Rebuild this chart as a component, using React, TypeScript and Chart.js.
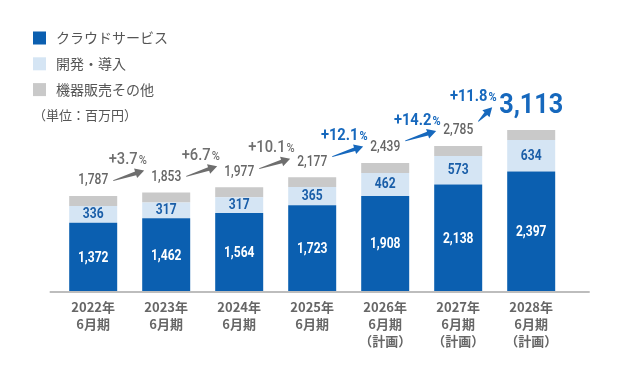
import React, { useEffect, useRef } from 'react';
import { Chart, registerables } from 'chart.js';

Chart.register(...registerables);

const categories: string[][] = [
  ['2022年', '6月期'],
  ['2023年', '6月期'],
  ['2024年', '6月期'],
  ['2025年', '6月期'],
  ['2026年', '6月期', '（計画）'],
  ['2027年', '6月期', '（計画）'],
  ['2028年', '6月期', '（計画）'],
];
const cloud = [1372, 1462, 1564, 1723, 1908, 2138, 2397];
const dev = [336, 317, 317, 365, 462, 573, 634];
// gray segment height as drawn in the picture (not labelled)
const otherDrawn = [200, 200, 200, 195, 200, 200, 200];
const totals = [1787, 1853, 1977, 2177, 2439, 2785, 3113];
const growth = ['+3.7', '+6.7', '+10.1', '+12.1', '+14.2', '+11.8'];
const growthHighlight = [false, false, false, true, true, true];
const legendLabels = ['クラウドサービス', '開発・導入', '機器販売その他'];
const unitLabel = '（単位：百万円）';

const C_CLOUD = '#0b5fb0';
const C_DEV = '#d5e5f4';
const C_OTHER = '#c9c9c9';
const C_TEXT_BLUE = '#1a5ea8';
const C_HL = '#1668bd';
const C_GRAY_TEXT = '#666666';

const NUM = "'Roboto', sans-serif";
const JP = "'Noto Sans CJK JP', 'Noto Sans', sans-serif";
const SQ = 0.86; // horizontal condensing for the DIN-like digits

const fmt = (v: number) => v.toLocaleString('en-US');

function condText(
  ctx: CanvasRenderingContext2D,
  text: string,
  x: number,
  y: number,
  align: 'left' | 'center',
  sx = SQ
): number {
  const w = ctx.measureText(text).width * sx;
  const left = align === 'center' ? x - w / 2 : x;
  ctx.save();
  ctx.translate(left, y);
  ctx.scale(sx, 1);
  ctx.textAlign = 'left';
  ctx.fillText(text, 0, 0);
  ctx.restore();
  return w;
}

function drawArrow(ctx: CanvasRenderingContext2D, sx: number, sy: number, ex: number, ey: number, color: string) {
  const dx = ex - sx, dy = ey - sy;
  const len = Math.hypot(dx, dy);
  const ux = dx / len, uy = dy / len;
  const px = -uy, py = ux;
  const hl = 9, hw = 5, bw = 1.9, tw = 0.4;
  const hx = ex - ux * hl, hy = ey - uy * hl;
  ctx.fillStyle = color;
  ctx.beginPath();
  ctx.moveTo(sx + px * tw, sy + py * tw);
  ctx.lineTo(hx + px * bw, hy + py * bw);
  ctx.lineTo(hx + px * hw, hy + py * hw);
  ctx.lineTo(ex, ey);
  ctx.lineTo(hx - px * hw, hy - py * hw);
  ctx.lineTo(hx - px * bw, hy - py * bw);
  ctx.lineTo(sx - px * tw, sy - py * tw);
  ctx.closePath();
  ctx.fill();
}

const overlayPlugin = {
  id: 'overlay',
  afterDatasetsDraw(chart: any) {
    const ctx: CanvasRenderingContext2D = chart.ctx;
    const area = chart.chartArea;
    const m0 = chart.getDatasetMeta(0);
    const m1 = chart.getDatasetMeta(1);
    const m2 = chart.getDatasetMeta(2);
    ctx.save();

    // baseline
    const base = m0.data[0].base;
    ctx.fillStyle = '#bdbdbd';
    ctx.fillRect(area.left - 7, base, area.right - area.left + 29, 2);

    // values inside bars
    ctx.textBaseline = 'middle';
    for (let i = 0; i < cloud.length; i++) {
      const b0 = m0.data[i];
      const b1 = m1.data[i];
      ctx.font = `bold 14px ${NUM}`;
      ctx.fillStyle = '#ffffff';
      condText(ctx, fmt(cloud[i]), b0.x, (b0.y + b0.base) / 2 + 1.5, 'center');
      ctx.fillStyle = C_TEXT_BLUE;
      condText(ctx, fmt(dev[i]), b1.x, (b1.y + b1.base) / 2 + 0.5, 'center');
    }

    // totals
    ctx.textBaseline = 'alphabetic';
    const info: { x: number; w: number; cy: number; bl: number }[] = [];
    for (let i = 0; i < totals.length; i++) {
      const e = m2.data[i];
      const last = i === totals.length - 1;
      ctx.font = last ? `bold 28px ${NUM}` : `500 14px ${NUM}`;
      ctx.fillStyle = last ? C_HL : C_GRAY_TEXT;
      const bl = last ? e.y - 16.7 : e.y - 11.6;
      const w = condText(ctx, fmt(totals[i]), e.x, bl, 'center', last ? 0.9 : SQ);
      info.push({ x: e.x, w, cy: last ? bl - 10 : bl - 5, bl });
    }

    // arrows and growth labels
    for (let i = 0; i < growth.length; i++) {
      const a = info[i], b = info[i + 1];
      const color = growthHighlight[i] ? C_HL : '#6e6e6e';
      const aRight = a.x + a.w / 2;
      const bLeft = b.x - b.w / 2;
      const mx = (aRight + bLeft) / 2 - 1;
      const my = (a.cy + b.cy) / 2 - 2;
      const half = (bLeft - aRight - 12) / 2;
      const rise = Math.max(10, 0.55 * (a.cy - b.cy));
      drawArrow(ctx, mx - half, my + rise / 2, mx + half, my - rise / 2, color);

      const weight = growthHighlight[i] ? 'bold ' : '500 ';
      const GS = 0.92;
      ctx.font = `${weight}16px ${NUM}`;
      const w1 = ctx.measureText(growth[i]).width * GS;
      ctx.font = `${weight}12px ${NUM}`;
      const w2 = ctx.measureText('%').width * GS;
      const tw = w1 + w2 + 1;
      let cx = mx - 1;
      if (cx + tw / 2 > bLeft - 2.5) cx = bLeft - 2.5 - tw / 2;
      const cyL = my - 17 - (rise - 10) * 0.5;
      const x0 = cx - tw / 2;
      ctx.fillStyle = color;
      ctx.font = `${weight}16px ${NUM}`;
      condText(ctx, growth[i], x0, cyL + 5.7, 'left', GS);
      ctx.font = `${weight}12px ${NUM}`;
      condText(ctx, '%', x0 + w1 + 1, cyL + 5.7, 'left', GS);
    }

    // category labels
    ctx.textAlign = 'center';
    ctx.textBaseline = 'middle';
    ctx.font = `bold 13px ${JP}`;
    ctx.fillStyle = C_GRAY_TEXT;
    for (let i = 0; i < categories.length; i++) {
      const x = m0.data[i].x;
      categories[i].forEach((line, k) => {
        ctx.fillText(line, x, base + 16 + 17 * k);
      });
    }

    // legend
    const colors = [C_CLOUD, C_DEV, C_OTHER];
    ctx.textAlign = 'left';
    ctx.font = `14px ${JP}`;
    for (let k = 0; k < legendLabels.length; k++) {
      const cy = 38 + 25.8 * k;
      ctx.fillStyle = colors[k];
      ctx.fillRect(33, cy - 6.5, 13, 13);
      ctx.fillStyle = '#555555';
      ctx.fillText(legendLabels[k], 56, cy);
    }
    ctx.font = `13px ${JP}`;
    ctx.fillStyle = '#555555';
    ctx.fillText(unitLabel, 33, 115);

    ctx.restore();
  },
};

export default function App() {
  const ref = useRef<HTMLCanvasElement | null>(null);
  useEffect(() => {
    if (!ref.current) return;
    const chart = new Chart(ref.current, {
      type: 'bar',
      data: {
        labels: categories.map((c) => c.join(' ')),
        datasets: [
          { label: legendLabels[0], data: cloud, backgroundColor: C_CLOUD },
          { label: legendLabels[1], data: dev, backgroundColor: C_DEV },
          { label: legendLabels[2], data: otherDrawn, backgroundColor: C_OTHER },
        ],
      },
      options: {
        animation: false,
        responsive: false,
        maintainAspectRatio: false,
        layout: { padding: { left: 56.7, right: 72.3, top: 20, bottom: 89 } },
        datasets: { bar: { barPercentage: 48 / 73, categoryPercentage: 1, borderWidth: 0 } },
        plugins: { legend: { display: false }, tooltip: { enabled: false } },
        scales: {
          x: { stacked: true, display: false, grid: { display: false } },
          y: { stacked: true, display: false, min: 0, max: 5440, grid: { display: false } },
        },
      },
      plugins: [overlayPlugin],
    });
    return () => chart.destroy();
  }, []);
  return (
    <div style={{ position: 'fixed', left: 0, top: 0, width: 640, height: 380, background: '#fff' }}>
      <canvas ref={ref} width={640} height={380} style={{ width: 640, height: 380 }} />
    </div>
  );
}
